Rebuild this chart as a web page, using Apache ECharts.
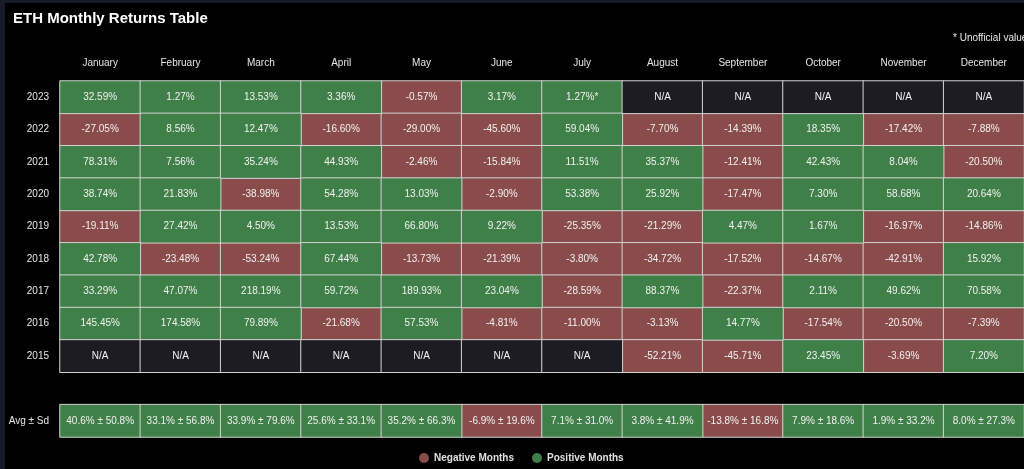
<!DOCTYPE html>
<html>
<head>
<meta charset="utf-8">
<script src="https://cdn.jsdelivr.net/npm/echarts@6/dist/echarts.min.js"></script>
<style>
html,body{margin:0;padding:0;background:#000;}
#chart{width:1024px;height:469px;}
</style>
</head>
<body>
<div id="chart"></div>
<script>
const months = ['January','February','March','April','May','June','July','August','September','October','November','December'];
const years = ['2023','2022','2021','2020','2019','2018','2017','2016','2015'];
const r2023 = [32.59, 1.27, 13.53, 3.36, -0.57, 3.17, 1.27, null, null, null, null, null];
const r2022 = [-27.05, 8.56, 12.47, -16.60, -29.00, -45.60, 59.04, -7.70, -14.39, 18.35, -17.42, -7.88];
const r2021 = [78.31, 7.56, 35.24, 44.93, -2.46, -15.84, 11.51, 35.37, -12.41, 42.43, 8.04, -20.50];
const r2020 = [38.74, 21.83, -38.98, 54.28, 13.03, -2.90, 53.38, 25.92, -17.47, 7.30, 58.68, 20.64];
const r2019 = [-19.11, 27.42, 4.50, 13.53, 66.80, 9.22, -25.35, -21.29, 4.47, 1.67, -16.97, -14.86];
const r2018 = [42.78, -23.48, -53.24, 67.44, -13.73, -21.39, -3.80, -34.72, -17.52, -14.67, -42.91, 15.92];
const r2017 = [33.29, 47.07, 218.19, 59.72, 189.93, 23.04, -28.59, 88.37, -22.37, 2.11, 49.62, 70.58];
const r2016 = [145.45, 174.58, 79.89, -21.68, 57.53, -4.81, -11.00, -3.13, 14.77, -17.54, -20.50, -7.39];
const r2015 = [null, null, null, null, null, null, null, -52.21, -45.71, 23.45, -3.69, 7.20];
const avgRet = [40.6, 33.1, 33.9, 25.6, 35.2, -6.9, 7.1, 3.8, -13.8, 7.9, 1.9, 8.0];
const sdRet = [50.8, 56.8, 79.6, 33.1, 66.3, 19.6, 31.0, 41.9, 16.8, 18.6, 33.2, 27.3];
const unofficial = [['2023', 'July']];
const avgLabel = 'Avg ± Sd';

const rows = [r2023, r2022, r2021, r2020, r2019, r2018, r2017, r2016, r2015];
const yCats = years.concat(['', avgLabel]);

const neg = [], pos = [], na = [];
rows.forEach((row, yi) => {
  row.forEach((v, xi) => {
    if (v === null) { na.push({value: [xi, yi, 0], txt: 'N/A'}); return; }
    const star = unofficial.some(u => u[0] === years[yi] && u[1] === months[xi]) ? '*' : '';
    const item = {value: [xi, yi, v], txt: v.toFixed(2) + '%' + star};
    (v < 0 ? neg : pos).push(item);
  });
});
const avgRow = yCats.indexOf(avgLabel);
avgRet.forEach((a, xi) => {
  const item = {value: [xi, avgRow, a], txt: a.toFixed(1) + '% ± ' + sdRet[xi].toFixed(1) + '%'};
  (a < 0 ? neg : pos).push(item);
});

const RED = '#8a4b4b', GREEN = '#3f7f48', NA = '#1d1c22';
const FONT = 'Liberation Sans, Arial, sans-serif';
const cellLabel = {show: true, color: '#f2f2f2', fontSize: 10, fontFamily: FONT, formatter: p => p.data.txt};
const cellStyle = c => ({color: c, borderColor: '#d2d2d2', borderWidth: 1});

const chart = echarts.init(document.getElementById('chart'), null, {renderer: 'canvas'});
chart.setOption({
  backgroundColor: '#000',
  animation: false,
  textStyle: {fontFamily: FONT},
  title: {
    text: 'ETH Monthly Returns Table', left: 8, top: 6,
    textStyle: {color: '#fff', fontSize: 15, fontWeight: 'bold', fontFamily: FONT}
  },
  graphic: [
    {type: 'rect', left: 0, top: 0, shape: {width: 5, height: 469}, style: {fill: '#161b26'}, silent: true},
    {type: 'rect', left: 0, top: 0, shape: {width: 1024, height: 3}, style: {fill: '#161b26'}, silent: true},
    {type: 'text', left: 953, top: 33, style: {text: '* Unofficial value', fill: '#e8e8e8', fontSize: 10, fontFamily: FONT}}
  ],
  legend: {
    data: ['Negative Months', 'Positive Months'],
    left: 414, top: 448, icon: 'circle', itemWidth: 10, itemHeight: 10, itemGap: 18,
    itemStyle: {borderWidth: 0},
    textStyle: {color: '#e0e0e0', fontSize: 10, fontWeight: 'bold'}
  },
  grid: {left: 60, top: 81, width: 967, height: 356},
  xAxis: {
    type: 'category', data: months, position: 'top',
    axisLine: {show: false}, axisTick: {show: false}, splitLine: {show: false},
    axisLabel: {color: '#e6e6e6', fontSize: 10, margin: 13, interval: 0}
  },
  yAxis: {
    type: 'category', data: yCats, inverse: true,
    axisLine: {show: false}, axisTick: {show: false}, splitLine: {show: false},
    axisLabel: {color: '#e6e6e6', fontSize: 10, margin: 11, interval: 0}
  },
  series: [
    {name: 'Negative Months', type: 'heatmap', data: neg, color: RED, itemStyle: cellStyle(RED), label: cellLabel, emphasis: {disabled: true}},
    {name: 'Positive Months', type: 'heatmap', data: pos, color: GREEN, itemStyle: cellStyle(GREEN), label: cellLabel, emphasis: {disabled: true}},
    {name: 'N/A', type: 'heatmap', data: na, color: NA, itemStyle: cellStyle(NA), label: cellLabel, emphasis: {disabled: true}}
  ]
});
</script>
</body>
</html>
